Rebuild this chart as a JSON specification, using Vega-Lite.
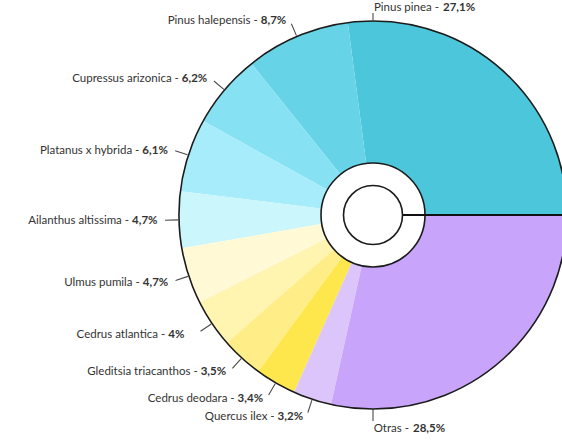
{
  "$schema": "https://vega.github.io/schema/vega-lite/v6.json",
  "width": 746,
  "height": 430,
  "autosize": {"type": "none"},
  "padding": {"left": 0, "top": 0, "right": -184, "bottom": 14},
  "background": "white",
  "config": {"view": {"stroke": null}, "text": {"font": "Lato", "fontSize": 11.5, "fill": "#333333"}},
  "data": {
    "values": [
      {"name": "Pinus pinea", "pct": 27.1, "rank": 1},
      {"name": "Pinus halepensis", "pct": 8.7, "rank": 2},
      {"name": "Cupressus arizonica", "pct": 6.2, "rank": 3},
      {"name": "Platanus x hybrida", "pct": 6.1, "rank": 4},
      {"name": "Ailanthus altissima", "pct": 4.7, "rank": 5},
      {"name": "Ulmus pumila", "pct": 4.7, "rank": 6},
      {"name": "Cedrus atlantica", "pct": 4, "rank": 7},
      {"name": "Gleditsia triacanthos", "pct": 3.5, "rank": 8},
      {"name": "Cedrus deodara", "pct": 3.4, "rank": 9},
      {"name": "Quercus ilex", "pct": 3.2, "rank": 10},
      {"name": "Otras", "pct": 28.5, "rank": 11}
    ]
  },
  "transform": [
    {"calculate": "datum.name + ' -'", "as": "nameLab"},
    {"calculate": "replace(toString(datum.pct), '.', ',') + '%'", "as": "pctLab"}
  ],
  "layer": [
    {
      "mark": {"type": "arc", "outerRadius": 194},
      "encoding": {
        "theta": {"field": "pct", "type": "quantitative", "stack": true, "scale": {"range": [1.5707963, -4.712389]}},
        "order": {"field": "rank", "type": "quantitative", "sort": "ascending"},
        "color": {
          "field": "name", "type": "nominal", "legend": null,
          "scale": {
            "domain": ["Pinus pinea", "Pinus halepensis", "Cupressus arizonica", "Platanus x hybrida", "Ailanthus altissima", "Ulmus pumila", "Cedrus atlantica", "Gleditsia triacanthos", "Cedrus deodara", "Quercus ilex", "Otras"],
            "range": ["#4CC6DB", "#66D4E6", "#86E2F3", "#A6ECFA", "#CAF6FC", "#FFF9D6", "#FFF4B0", "#FFEE88", "#FDE74C", "#DCC5FA", "#C8A4FB"]
          }
        }
      }
    },
    {
      "mark": {"type": "arc", "outerRadius": 208, "innerRadius": 195, "padAngle": 3, "fill": null, "stroke": "#4a4a4a", "strokeWidth": 1.1},
      "encoding": {
        "theta": {"field": "pct", "type": "quantitative", "stack": true},
        "order": {"field": "rank", "type": "quantitative", "sort": "ascending"},
        "strokeOpacity": {"condition": {"test": "datum.pct > 20", "value": 0}, "value": 1}
      }
    },
    {
      "mark": {"type": "text", "radius": 212, "align": "right", "baseline": "middle", "dx": -32, "dy": 1},
      "encoding": {
        "theta": {"field": "pct", "type": "quantitative", "stack": true},
        "order": {"field": "rank", "type": "quantitative", "sort": "ascending"},
        "text": {"field": "nameLab"},
        "opacity": {"condition": {"test": "datum.pct > 20", "value": 0}, "value": 1}
      }
    },
    {
      "mark": {"type": "text", "radius": 212, "align": "left", "baseline": "middle", "dx": -29, "dy": 1, "fontWeight": "bold"},
      "encoding": {
        "theta": {"field": "pct", "type": "quantitative", "stack": true},
        "order": {"field": "rank", "type": "quantitative", "sort": "ascending"},
        "text": {"field": "pctLab"},
        "opacity": {"condition": {"test": "datum.pct > 20", "value": 0}, "value": 1}
      }
    },
    {
      "transform": [{"filter": "datum.name === 'Pinus pinea'"}],
      "layer": [
        {
          "mark": {"type": "arc", "innerRadius": 195, "outerRadius": 202, "fill": null, "stroke": "#4a4a4a", "strokeWidth": 1.1},
          "encoding": {"theta": {"value": 0}, "theta2": {"value": 0}}
        },
        {
          "mark": {"type": "text", "radius": 207, "align": "right", "baseline": "middle", "dx": 66},
          "encoding": {"theta": {"value": 0}, "text": {"field": "nameLab"}}
        },
        {
          "mark": {"type": "text", "radius": 207, "align": "left", "baseline": "middle", "dx": 70, "fontWeight": "bold"},
          "encoding": {"theta": {"value": 0}, "text": {"field": "pctLab"}}
        }
      ]
    },
    {
      "transform": [{"filter": "datum.name === 'Otras'"}],
      "layer": [
        {
          "mark": {"type": "arc", "innerRadius": 194, "outerRadius": 206, "fill": null, "stroke": "#4a4a4a", "strokeWidth": 1.1},
          "encoding": {"theta": {"value": 3.14159}, "theta2": {"value": 3.14159}}
        },
        {
          "mark": {"type": "text", "radius": 214, "align": "right", "baseline": "middle", "dx": 36},
          "encoding": {"theta": {"value": 3.14159}, "text": {"field": "nameLab"}}
        },
        {
          "mark": {"type": "text", "radius": 214, "align": "left", "baseline": "middle", "dx": 40, "fontWeight": "bold"},
          "encoding": {"theta": {"value": 3.14159}, "text": {"field": "pctLab"}}
        }
      ]
    },
    {
      "transform": [{"filter": "datum.rank === 1"}],
      "layer": [
        {
          "mark": {"type": "arc", "outerRadius": 194, "fill": null, "stroke": "#1b1b1b", "strokeWidth": 1.6},
          "encoding": {"theta": {"value": 0}, "theta2": {"value": 6.2832}}
        },
        {
          "mark": {"type": "arc", "outerRadius": 52, "fill": "white", "stroke": "#1b1b1b", "strokeWidth": 1.6},
          "encoding": {"theta": {"value": 0}, "theta2": {"value": 6.2832}}
        },
        {
          "mark": {"type": "arc", "innerRadius": 29.5, "outerRadius": 194, "fill": null, "stroke": "#111111", "strokeWidth": 2},
          "encoding": {"theta": {"value": 1.5707963}, "theta2": {"value": 1.5707963}}
        },
        {
          "mark": {"type": "arc", "outerRadius": 29.5, "fill": "white", "stroke": "#1b1b1b", "strokeWidth": 1.6},
          "encoding": {"theta": {"value": 0}, "theta2": {"value": 6.2832}}
        }
      ]
    }
  ]
}
